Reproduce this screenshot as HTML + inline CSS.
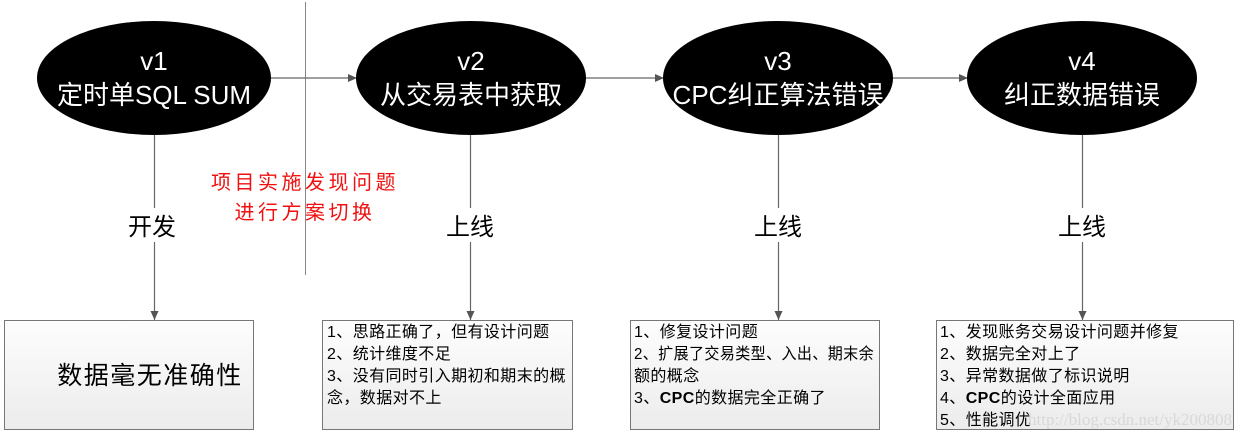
<!DOCTYPE html>
<html><head><meta charset="utf-8"><style>
html,body{margin:0;padding:0;background:#fff;}
svg{display:block;}
.cj{font-family:"Liberation Sans","Noto Sans CJK SC",sans-serif;}
</style></head><body>
<svg width="1243" height="443" viewBox="0 0 1243 443" xmlns="http://www.w3.org/2000/svg" class="cj">
<defs>
<marker id="a" markerWidth="10" markerHeight="10" refX="9" refY="5" orient="auto" markerUnits="userSpaceOnUse">
<path d="M0,1 L9,5 L0,9 z" fill="#555"/></marker>
<linearGradient id="g" x1="0" y1="0" x2="0" y2="1"><stop offset="0" stop-color="#fdfdfd"/><stop offset="1" stop-color="#ececec"/></linearGradient>
</defs>
<line x1="305.5" y1="2" x2="305.5" y2="275" stroke="#888" stroke-width="1"/>
<g stroke="#666" stroke-width="1.2" fill="none">
<line x1="271" y1="78" x2="357" y2="78" marker-end="url(#a)"/>
<line x1="585" y1="78" x2="664" y2="78" marker-end="url(#a)"/>
<line x1="893" y1="78" x2="968" y2="78" marker-end="url(#a)"/>
<line x1="154.5" y1="135" x2="154.5" y2="320" marker-end="url(#a)"/>
<line x1="470.5" y1="135" x2="470.5" y2="320" marker-end="url(#a)"/>
<line x1="778.5" y1="135" x2="778.5" y2="320" marker-end="url(#a)"/>
<line x1="1082.5" y1="135" x2="1082.5" y2="320" marker-end="url(#a)"/>
</g>
<g fill="#000">
<ellipse cx="154" cy="78" rx="117" ry="57"/>
<ellipse cx="471" cy="78" rx="115" ry="57"/>
<ellipse cx="778" cy="78" rx="115" ry="57"/>
<ellipse cx="1082" cy="78" rx="115" ry="57"/>
</g>
<g fill="#fff" font-size="26" text-anchor="middle">
<text x="154" y="70">v1</text><text x="154" y="104">定时单SQL SUM</text>
<text x="471" y="70">v2</text><text x="471" y="104">从交易表中获取</text>
<text x="778" y="70">v3</text><text x="778" y="104">CPC纠正算法错误</text>
<text x="1082" y="70">v4</text><text x="1082" y="104">纠正数据错误</text>
</g>
<g font-size="24" text-anchor="middle" fill="#000">
<rect x="120" y="208" width="66" height="34" fill="#fff"/><text x="152" y="235">开发</text>
<rect x="438" y="208" width="66" height="34" fill="#fff"/><text x="470" y="235">上线</text>
<rect x="746" y="208" width="66" height="34" fill="#fff"/><text x="778" y="235">上线</text>
<rect x="1050" y="208" width="66" height="34" fill="#fff"/><text x="1082" y="235">上线</text>
</g>
<g font-size="20" fill="#f01010" text-anchor="middle" letter-spacing="3.5">
<text x="305" y="189">项目实施发现问题</text>
<text x="305" y="219">进行方案切换</text>
</g>
<g fill="url(#g)" stroke="#777" stroke-width="1">
<rect x="4.5" y="320.5" width="249" height="109"/>
<rect x="322.5" y="320.5" width="250" height="109"/>
<rect x="630.5" y="320.5" width="249" height="109"/>
<rect x="936.5" y="320.5" width="297" height="109"/>
</g>
<text x="150" y="384" font-size="25" text-anchor="middle" letter-spacing="1.5">数据毫无准确性</text>
<g font-size="16" fill="#000" letter-spacing="0.4">
<text x="327" y="337">1、思路正确了，但有设计问题</text>
<text x="327" y="359">2、统计维度不足</text>
<text x="327" y="381">3、没有同时引入期初和期末的概</text>
<text x="327" y="403">念，数据对不上</text>
<text x="634" y="337">1、修复设计问题</text>
<text x="634" y="359" textLength="240" lengthAdjust="spacingAndGlyphs">2、扩展了交易类型、入出、期末余</text>
<text x="634" y="381">额的概念</text>
<text x="634" y="403">3、<tspan font-weight="bold">CPC</tspan>的数据完全正确了</text>
<text x="940" y="337">1、发现账务交易设计问题并修复</text>
<text x="940" y="359">2、数据完全对上了</text>
<text x="940" y="381">3、异常数据做了标识说明</text>
<text x="940" y="403">4、<tspan font-weight="bold">CPC</tspan>的设计全面应用</text>
<text x="940" y="425">5、性能调优</text>
</g>
<text x="1232" y="425" font-size="17" fill="#d8d8d8" text-anchor="end" font-family="Liberation Serif,serif">http://blog.csdn.net/yk200808</text>
</svg>
</body></html>
